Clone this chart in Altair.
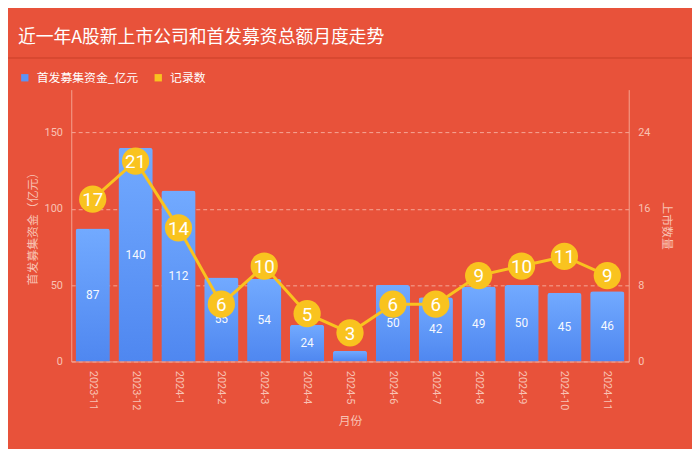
import altair as alt
import pandas as pd

months = ["2023-11", "2023-12", "2024-1", "2024-2", "2024-3", "2024-4", "2024-5",
          "2024-6", "2024-7", "2024-8", "2024-9", "2024-10", "2024-11"]
amounts = [87, 140, 112, 55, 54, 24, 7, 50, 42, 49, 50, 45, 46]
counts = [17, 21, 14, 6, 10, 5, 3, 6, 6, 9, 10, 11, 9]
series_names = ["首发募集资金_亿元", "记录数"]
series_colors = ["#5b93f6", "#f9c31f"]

df = pd.DataFrame({"month": months, "amount": amounts, "count": counts})
legend_df = pd.DataFrame({"series": series_names})

BG = "#e8523a"
PINK = "#f8c2b4"
YELLOW = "#f9c31f"
FONT = "Noto Sans CJK SC"
NUM_FONT = "Roboto"

base = alt.Chart(df)
x_enc = alt.X("month:N", sort=months, title="月份",
              scale=alt.Scale(paddingInner=0.2, paddingOuter=0.1),
              axis=alt.Axis(labelAngle=90, labelAlign="left", labelBaseline="middle",
                            labelPadding=9, labelColor=PINK, labelFontSize=11,
                            labelFont=NUM_FONT, ticks=False, domainColor="#f5a390",
                            titleColor=PINK, titleFontSize=12, titleFont=FONT,
                            titlePadding=6, titleFontWeight="normal"))

y_left = alt.Y("amount:Q", title="首发募集资金（亿元）",
               scale=alt.Scale(domain=[0, 178], nice=False),
               axis=alt.Axis(values=[0, 50, 100, 150], orient="left", ticks=False,
                             labelColor=PINK, labelFontSize=11, labelFont=NUM_FONT,
                             labelPadding=9, domainColor="#f5a390",
                             grid=True, gridColor="#f5a898", gridDash=[4, 3],
                             gridWidth=1, titleColor=PINK, titleFontSize=12,
                             titleFont=FONT, titleFontWeight="normal", titlePadding=5))

bars = base.mark_bar(
    cornerRadiusTopLeft=3, cornerRadiusTopRight=3,
    fill=alt.Gradient(gradient="linear", x1=0, y1=0, x2=0, y2=1,
                      stops=[alt.GradientStop(color="#72aaff", offset=0),
                             alt.GradientStop(color="#4f87f0", offset=1)])
).encode(x=x_enc, y=y_left)

bar_labels = base.transform_filter("datum.amount >= 10").transform_calculate(
    mid="datum.amount / 2"
).mark_text(color="white", fontSize=12, font=NUM_FONT, baseline="middle", opacity=0.95).encode(
    x=alt.X("month:N", sort=months),
    y=alt.Y("mid:Q"),
    text=alt.Text("amount:Q"))

legend_layer = alt.Chart(legend_df).mark_square(opacity=0).encode(
    color=alt.Color("series:N", sort=series_names,
                    scale=alt.Scale(domain=series_names, range=series_colors),
                    legend=alt.Legend(title=None, orient="none", direction="horizontal",
                                      legendX=-53, legendY=-18, symbolType="square",
                                      symbolSize=55, symbolOpacity=1, symbolStrokeWidth=0,
                                      labelColor="white", labelFontSize=12,
                                      labelFont=FONT, labelOffset=6, columnPadding=14)))

separator = alt.Chart(legend_df).mark_rule(color="#c9402b", strokeWidth=1, opacity=0.6).encode(
    x=alt.value(-64), x2=alt.value(628), y=alt.value(-32))

left = alt.layer(bars, bar_labels, legend_layer, separator)

y_right = alt.Y("count:Q", title="上市数量",
                scale=alt.Scale(domain=[0, 28.48], nice=False),
                axis=alt.Axis(values=[0, 8, 16, 24], orient="right", ticks=False,
                              labelColor=PINK, labelFontSize=11, labelFont=NUM_FONT,
                              labelPadding=9, domainColor="#f5a390", grid=False,
                              titleColor=PINK, titleFontSize=12, titleFont=FONT,
                              titleFontWeight="normal", titlePadding=10))

line = base.mark_line(color=YELLOW, strokeWidth=3).encode(
    x=alt.X("month:N", sort=months), y=y_right)
circles = base.mark_circle(color=YELLOW, size=760, opacity=1).encode(
    x=alt.X("month:N", sort=months), y=alt.Y("count:Q"))
circle_text = base.mark_text(color="white", fontSize=19, font=NUM_FONT, baseline="middle",
                             dy=1).encode(
    x=alt.X("month:N", sort=months), y=alt.Y("count:Q"), text=alt.Text("count:Q"))

right = alt.layer(line, circles, circle_text)

chart = alt.layer(left, right).resolve_scale(
    y="independent", color="independent"
).properties(
    width=564, height=275,
    padding={"left": 64, "top": 80, "right": 64, "bottom": 86},
    autosize=alt.AutoSizeParams(type="none"),
    background=BG,
    title=alt.TitleParams("近一年A股新上市公司和首发募资总额月度走势", anchor="start",
                          frame="group", dx=-54, offset=11, fontSize=18, font=FONT,
                          fontWeight="normal", color="white", baseline="top")
).configure_view(stroke=None)

chart.save("out.html", embed_options={"renderer": "svg", "actions": False})
